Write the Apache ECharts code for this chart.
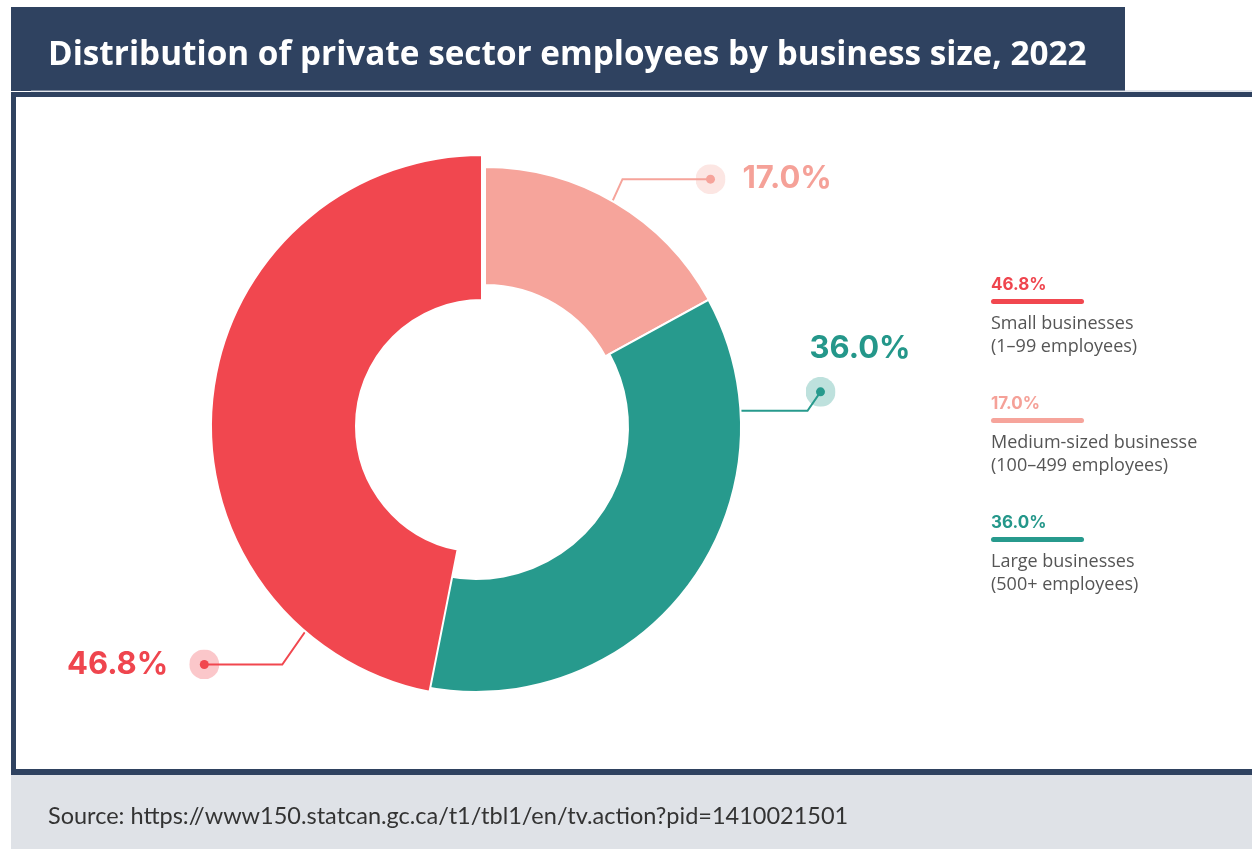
<!DOCTYPE html>
<html>
<head>
<meta charset="utf-8">
<script src="https://cdn.jsdelivr.net/npm/echarts@6/dist/echarts.min.js"></script>
<style>
  html, body { margin: 0; padding: 0; background: #ffffff; }
  #chart { width: 1252px; height: 849px; }
</style>
</head>
<body>
<div id="chart"></div>
<script>
// ---- data ----
const categories = ['Small businesses', 'Medium-sized businesse', 'Large businesses'];
const sizeBands = ['(1–99 employees)', '(100–499 employees)', '(500+ employees)'];
const shares = [46.8, 17.0, 36.0];
const ringOrder = [1, 2, 0]; // slices clockwise from 12 o'clock
const titleText = 'Distribution of private sector employees by business size, 2022';
const sourceText = 'Source: https://www150.statcan.gc.ca/t1/tbl1/en/tv.action?pid=1410021501';

// ---- styling ----
const navy = '#2f4260';
const colors = ['#f1474f', '#f6a49b', '#279a8d'];
const textColors = ['#ef454e', '#f5a198', '#24978a'];
const haloColors = ['rgba(241,71,79,0.30)', 'rgba(246,164,155,0.28)', 'rgba(39,154,141,0.30)'];

// every slice is its own ring, so thickness and centre can differ per slice
const rings = {
  0: { center: [482, 426], radius: [126, 271] },
  1: { center: [485, 422], radius: [137, 255] },
  2: { center: [476, 427], radius: [152, 265] }
};
// callouts: anchor angle on the outer edge (deg clockwise from top), then two legs
const callouts = {
  0: { angle: 220.7, legs: [[-23, 33], [-78, 0]], side: 'left' },
  1: { angle: 30, legs: [[10, -22], [88, 0]], side: 'right' },
  2: { angle: 86.5, legs: [[67, 0], [13, -19]], side: 'up' }
};

function dotImage(i) {
  const svg = "<svg xmlns='http://www.w3.org/2000/svg' width='30' height='30'>" +
    "<circle cx='15' cy='15' r='15' fill='" + haloColors[i] + "'/>" +
    "<circle cx='15' cy='15' r='4.5' fill='" + colors[i] + "'/></svg>";
  return 'data:image/svg+xml;charset=utf-8,' + encodeURIComponent(svg);
}

function pct(v) { return v.toFixed(1) + '%'; }

function calloutLabel(cat) {
  const side = callouts[cat].side;
  const valStyle = {
    fontFamily: 'Inter', fontWeight: 'bold', fontSize: 31, color: textColors[cat]
  };
  const rich = { dot: { width: 30, height: 30, backgroundColor: { image: dotImage(cat) } } };
  let fmt;
  if (side === 'right') {
    rich.val = Object.assign({ padding: [0, 0, 0, 17] }, valStyle);
    fmt = '{dot|}{val|' + pct(shares[cat]) + '}';
  } else if (side === 'left') {
    rich.val = Object.assign({ padding: [0, 21, 0, 0] }, valStyle);
    fmt = '{val|' + pct(shares[cat]) + '}{dot|}';
  } else {
    rich.val = Object.assign({ padding: [0, 0, 0, 4], lineHeight: 56 }, valStyle);
    rich.dot.lineHeight = 30;
    fmt = '{val|' + pct(shares[cat]) + '}\n{dot|}';
  }
  return { show: true, position: 'outside', formatter: fmt, rich: rich };
}

function layoutCallout(params) {
  const cat = ringOrder[params.seriesIndex];
  if (params.dataIndex !== params.seriesIndex) return;
  const ring = rings[cat];
  const c = callouts[cat];
  const a = c.angle * Math.PI / 180;
  const R = ring.radius[1];
  const p0 = [ring.center[0] + R * Math.sin(a), ring.center[1] - R * Math.cos(a)];
  const p1 = [p0[0] + c.legs[0][0], p0[1] + c.legs[0][1]];
  const p2 = [p1[0] + c.legs[1][0], p1[1] + c.legs[1][1]];
  const out = { labelLinePoints: [p0, p1, p2] };
  if (c.side === 'right') {
    Object.assign(out, { x: p2[0] - 15, y: p2[1], align: 'left', verticalAlign: 'middle' });
  } else if (c.side === 'left') {
    Object.assign(out, { x: p2[0] + 15, y: p2[1], align: 'right', verticalAlign: 'middle' });
  } else {
    Object.assign(out, { x: p2[0] - 15, y: p2[1] + 15, align: 'left', verticalAlign: 'bottom' });
  }
  return out;
}

const legendRich = {
  n: { fontFamily: 'Open Sans', fontSize: 18, color: '#555555', lineHeight: 23 }
};
categories.forEach(function (_, i) {
  legendRich['v' + i] = { fontFamily: 'Inter', fontWeight: 'bold', fontSize: 17, color: textColors[i], lineHeight: 12 };
  legendRich['b' + i] = { width: 93, height: 5, borderRadius: 3, backgroundColor: colors[i], lineHeight: 22, verticalAlign: 'middle' };
});

const chart = echarts.init(document.getElementById('chart'), null, { renderer: 'canvas' });

chart.setOption({
  animation: false,
  backgroundColor: '#ffffff',
  title: {
    text: titleText,
    left: 48,
    top: 36,
    padding: 0,
    textStyle: { color: '#ffffff', fontFamily: 'Open Sans', fontWeight: 'bold', fontSize: 33.3, lineHeight: 40 }
  },
  legend: {
    orient: 'vertical',
    left: 986,
    top: 276,
    padding: 0,
    itemGap: 39,
    itemWidth: 0,
    itemHeight: 0,
    icon: 'none',
    selectedMode: false,
    data: categories,
    formatter: function (name) {
      const i = categories.indexOf(name);
      return '{v' + i + '|' + pct(shares[i]) + '}\n{b' + i + '|}\n{n|' + categories[i] + '}\n{n|' + sizeBands[i] + '}';
    },
    textStyle: { rich: legendRich }
  },
  graphic: [
    { type: 'rect', shape: { x: 11, y: 92, width: 1241, height: 683 }, style: { fill: navy } },
    { type: 'rect', shape: { x: 16, y: 97, width: 1236, height: 672 }, style: { fill: '#ffffff' } },
    { type: 'rect', shape: { x: 11, y: 7, width: 1114, height: 84 }, style: { fill: navy } },
    { type: 'line', shape: { x1: 31, y1: 91, x2: 1252, y2: 91 }, style: { stroke: '#c7cdd8', lineWidth: 1 } },
    { type: 'rect', shape: { x: 11, y: 775, width: 1241, height: 74 }, style: { fill: '#dfe2e7' } },
    { type: 'text', x: 48, y: 816, style: { text: sourceText, font: '23.5px Lato', fill: '#333333', verticalAlign: 'middle' } }
  ],
  series: ringOrder.map(function (cat, k) {
    return {
      type: 'pie',
      silent: true,
      startAngle: 90,
      clockwise: true,
      center: rings[cat].center,
      radius: rings[cat].radius,
      avoidLabelOverlap: false,
      labelLayout: layoutCallout,
      emphasis: { disabled: true },
      data: ringOrder.map(function (c, j) {
        const own = j === k;
        return {
          name: categories[c],
          value: shares[c],
          itemStyle: own ? { color: colors[c], borderColor: '#ffffff', borderWidth: 2 }
                         : { color: 'rgba(0,0,0,0)', borderWidth: 0 },
          label: own ? calloutLabel(c) : { show: false },
          labelLine: own ? { show: true, smooth: false, lineStyle: { color: colors[c], width: 2 } }
                         : { show: false }
        };
      })
    };
  })
});
</script>
</body>
</html>
